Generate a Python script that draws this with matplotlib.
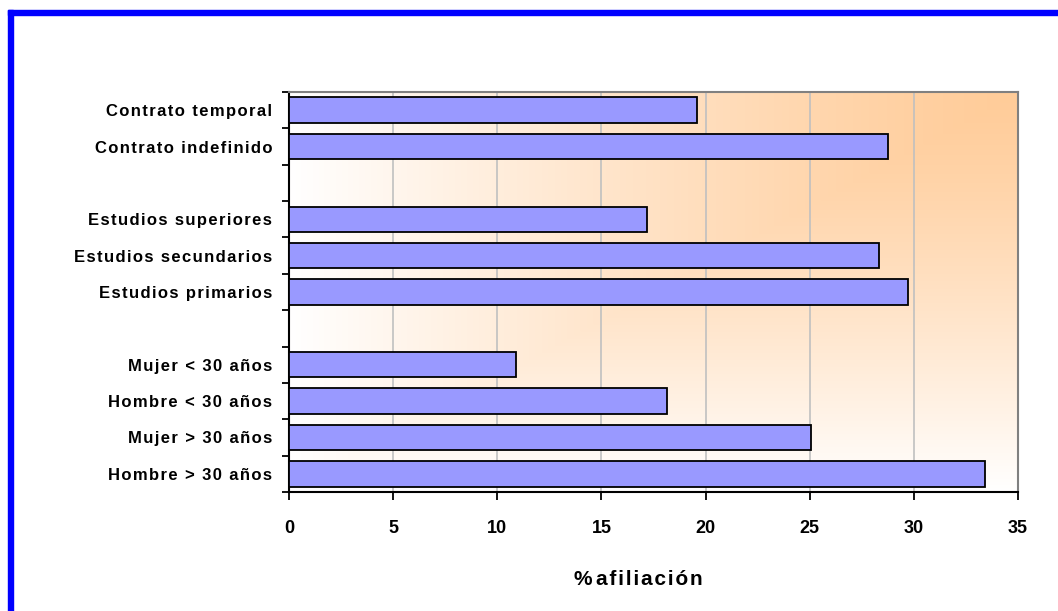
import matplotlib.pyplot as plt
import numpy as np
from matplotlib.patches import Rectangle

categorias = ["Hombre > 30 años", "Mujer > 30 años", "Hombre < 30 años",
              "Mujer < 30 años", "", "Estudios primarios",
              "Estudios secundarios", "Estudios superiores", "",
              "Contrato indefinido", "Contrato temporal"]
afiliacion = [33.4, 25.05, 18.15, 10.9, np.nan, 29.7, 28.35, 17.2, np.nan,
              28.75, 19.6]
xticks = [0, 5, 10, 15, 20, 25, 30, 35]

plt.rcParams['font.family'] = ['Liberation Sans', 'DejaVu Sans']
plt.rcParams['font.weight'] = 'bold'


def espaciado(s, k=1):
    # separa un poco las letras con espacios finos
    return ('\u200a' * k).join(s)


W, H = 1058, 611
fig = plt.figure(figsize=(W / 100, H / 100), dpi=100)
ax = fig.add_axes([289 / W, 1 - 492 / H, 729 / W, 400 / H])

# fondo degradado desde la esquina superior derecha
nx, ny = 400, 220
gx = np.linspace(1, 0, nx)[None, :]
gy = np.linspace(0, 1, ny)[:, None]
t = np.maximum(np.broadcast_to(gx, (ny, nx)), np.broadcast_to(gy, (ny, nx)))
t = t ** 1.25
naranja = np.array([1.0, 0.80, 0.60])
blanco = np.array([1.0, 1.0, 1.0])
img = naranja[None, None, :] * (1 - t[..., None]) + blanco[None, None, :] * t[..., None]
n = len(categorias)
ax.imshow(img, extent=[0, 35, -0.5, n - 0.5], aspect='auto', zorder=0,
          origin='upper', interpolation='bilinear')

y = np.arange(n)
vals = np.array(afiliacion)
mask = ~np.isnan(vals)
ax.barh(y[mask], vals[mask], height=0.7, color='#9999FF', edgecolor='black',
        linewidth=1.3, zorder=3)

ax.set_xlim(0, 35)
ax.set_ylim(-0.5, n - 0.5)
ax.set_xticks(xticks)
ax.set_xticklabels([str(v) for v in xticks], fontsize=13, fontweight='bold')
ax.xaxis.grid(True, color='#C0C0C0', linewidth=1.2, zorder=1)
ax.set_axisbelow(True)

# etiquetas de categoria entre marcas
ax.set_yticks(np.arange(n + 1) - 0.5)
ax.set_yticklabels([])
ax.set_yticks(y, minor=True)
ax.set_yticklabels([espaciado(c) for c in categorias], minor=True,
                   fontsize=12, fontweight='bold')
ax.tick_params(axis='y', which='minor', length=0, pad=12)
ax.tick_params(axis='y', which='major', length=5, width=1.3, direction='out')
ax.tick_params(axis='x', length=6, width=1.3, direction='out', pad=14)

ax.spines['left'].set_linewidth(1.5)
ax.spines['bottom'].set_linewidth(1.5)
for s in ['top', 'right']:
    ax.spines[s].set_color('#808080')
    ax.spines[s].set_linewidth(1.5)

ax.set_xlabel('%\u200a\u200a' + espaciado('afiliación'), fontsize=15,
              fontweight='bold')
ax.xaxis.set_label_coords(0.479, -0.195)

# marco azul
fig.patches.append(Rectangle((8 / W, 0), 5 / W, 1 - 10 / H,
                             transform=fig.transFigure, color='#0000FF'))
fig.patches.append(Rectangle((8 / W, 1 - 15 / H), 1, 5 / H,
                             transform=fig.transFigure, color='#0000FF'))

fig.savefig('out.png', dpi=100)
